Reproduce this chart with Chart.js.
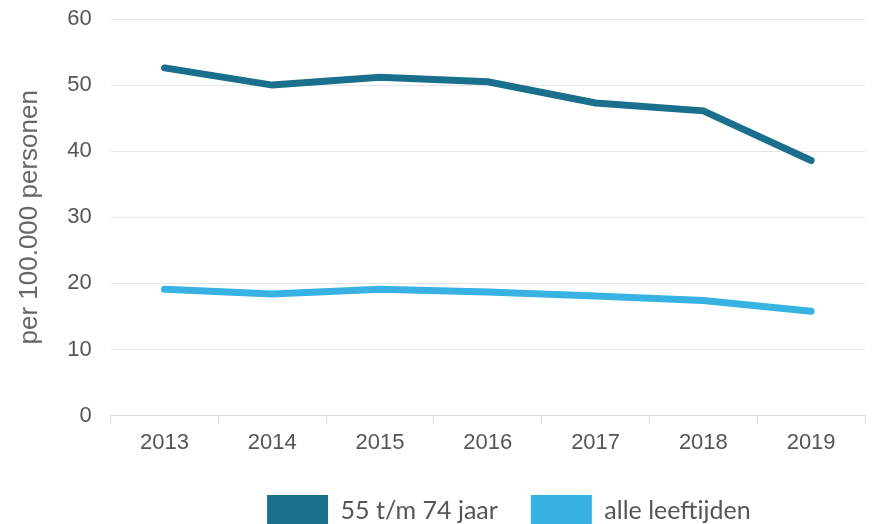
<!DOCTYPE html>
<html>
<head>
<meta charset="utf-8">
<script src="https://cdn.jsdelivr.net/npm/chart.js@4/dist/chart.umd.min.js"></script>
<style>
  html, body { margin: 0; padding: 0; background: #fff; overflow: hidden; }
  #wrap { position: relative; width: 885px; height: 536px; }
</style>
</head>
<body>
<div id="wrap"><canvas id="chart"></canvas></div>
<script>
// Data
const years = ['2013', '2014', '2015', '2016', '2017', '2018', '2019'];
const ages55to74 = [52.6, 50.0, 51.2, 50.5, 47.3, 46.1, 38.6];
const allAges = [19.1, 18.4, 19.1, 18.7, 18.1, 17.4, 15.8];

const darkBlue = '#1a6f8c';
const lightBlue = '#37b2e2';

// schuift de legenda een stukje naar rechts, zoals in het origineel
const legendShift = {
    id: 'legendShift',
    afterLayout(chart) {
        if (chart.legend) {
            chart.legend.left += 21;
            chart.legend.right += 21;
        }
    }
};

document.addEventListener('DOMContentLoaded', function() {
    const ctx = document.getElementById('chart').getContext('2d');
    new Chart(ctx, {
        type: 'line',
        data: {
            labels: years,
            datasets: [{
                label: '55 t/m 74 jaar',
                data: ages55to74,
                borderColor: darkBlue,
                backgroundColor: darkBlue,
                borderWidth: 7,
                pointRadius: 0,
                borderCapStyle: 'round',
                tension: 0
            }, {
                label: 'alle leeftijden',
                data: allAges,
                borderColor: lightBlue,
                backgroundColor: lightBlue,
                borderWidth: 7,
                pointRadius: 0,
                borderCapStyle: 'round',
                tension: 0
            }]
        },
        options: {
            responsive: true,
            maintainAspectRatio: false,
            animation: false,
            layout: {
                padding: { top: 0, right: 20, left: 14, bottom: 0 }
            },
            plugins: {
                legend: {
                    position: 'bottom',
                    fullSize: false,
                    labels: {
                        boxWidth: 61,
                        boxHeight: 31,
                        padding: 33,
                        color: '#555',
                        font: { family: 'Lato', size: 25 },
                        generateLabels(chart) {
                            const items = Chart.defaults.plugins.legend.labels.generateLabels(chart);
                            items.forEach(item => { item.lineWidth = 0; });
                            return items;
                        }
                    }
                },
                tooltip: { enabled: false }
            },
            scales: {
                x: {
                    offset: true,
                    grid: {
                        offset: true,
                        drawOnChartArea: false,
                        drawTicks: true,
                        tickLength: 8,
                        color: '#dcdcdc'
                    },
                    border: { color: '#dcdcdc', width: 1 },
                    ticks: {
                        color: '#555',
                        padding: 6,
                        font: { family: 'Liberation Sans', size: 22 }
                    }
                },
                y: {
                    min: 0,
                    max: 60,
                    afterFit(scale) {
                        // ruimte boven de bovenste gridlijn
                        scale.paddingTop = 19;
                    },
                    ticks: {
                        stepSize: 10,
                        color: '#555',
                        padding: 19,
                        font: { family: 'Liberation Sans', size: 22 }
                    },
                    grid: { color: '#e6e6e6', drawTicks: false },
                    border: { display: false },
                    title: {
                        display: true,
                        text: 'per 100.000 personen',
                        color: '#666',
                        padding: { top: 0, bottom: 3 },
                        font: { family: 'Liberation Sans', size: 26 }
                    }
                }
            }
        },
        plugins: [legendShift]
    });
});
</script>
</body>
</html>
